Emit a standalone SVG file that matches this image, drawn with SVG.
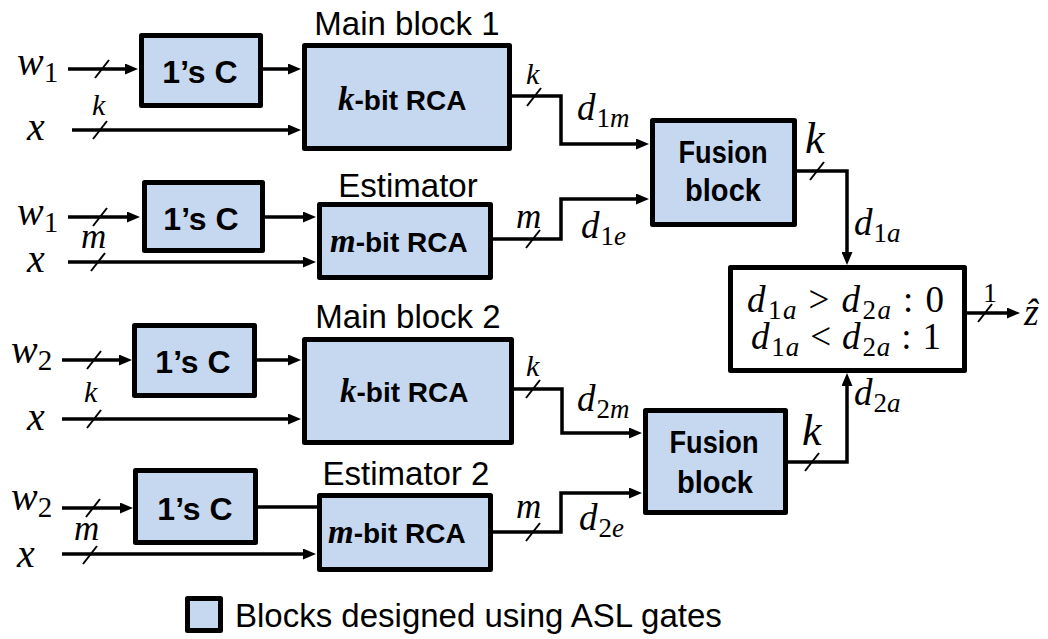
<svg xmlns="http://www.w3.org/2000/svg" width="1048" height="639" viewBox="0 0 1048 639">
<style>
.blk{fill:#c5d8f0;stroke:#000;stroke-width:5;stroke-linejoin:round}
.wbox{fill:#fff;stroke:#000;stroke-width:5;stroke-linejoin:round}
.w{fill:none;stroke:#000;stroke-width:3.5}
.sl{fill:none;stroke:#000;stroke-width:2}
.ttl{font-family:"Liberation Sans",Arial,sans-serif;font-size:33px;fill:#000}
.bold{font-family:"Liberation Sans",Arial,sans-serif;font-weight:bold;fill:#000}
.mi{font-family:"Liberation Serif","DejaVu Serif",serif;font-style:italic;fill:#000}
.up{font-family:"Liberation Serif","DejaVu Serif",serif;font-style:normal}
.kb{font-family:"Liberation Serif","DejaVu Serif",serif;font-style:italic;font-weight:bold}
</style>
<defs>
<marker id="ah" markerUnits="userSpaceOnUse" markerWidth="13" markerHeight="11" refX="8" refY="5.5" orient="auto">
<path d="M0,0 L13,5.5 L0,11 z" fill="#000"/>
</marker>
</defs>
<rect width="1048" height="639" fill="#fff"/>

<g id="connectors">
<!-- row 1 -->
<line class="w" x1="68" y1="69" x2="133" y2="69" marker-end="url(#ah)"/>
<line class="w" x1="263" y1="69" x2="296" y2="69" marker-end="url(#ah)"/>
<line class="w" x1="72" y1="130" x2="296" y2="130" marker-end="url(#ah)"/>
<!-- row 2 -->
<line class="w" x1="68" y1="217" x2="135" y2="217" marker-end="url(#ah)"/>
<line class="w" x1="265" y1="217" x2="311" y2="217" marker-end="url(#ah)"/>
<line class="w" x1="68" y1="262" x2="311" y2="262" marker-end="url(#ah)"/>
<!-- row 3 -->
<line class="w" x1="62" y1="360" x2="127" y2="360" marker-end="url(#ah)"/>
<line class="w" x1="257" y1="360" x2="296" y2="360" marker-end="url(#ah)"/>
<line class="w" x1="62" y1="419" x2="296" y2="419" marker-end="url(#ah)"/>
<!-- row 4 -->
<line class="w" x1="62" y1="508" x2="128" y2="508" marker-end="url(#ah)"/>
<line class="w" x1="258" y1="507" x2="318" y2="507"/>
<line class="w" x1="62" y1="554" x2="311" y2="554" marker-end="url(#ah)"/>
<!-- to fusion blocks -->
<polyline class="w" points="512,96 561,96 561,144 644,144" marker-end="url(#ah)"/>
<polyline class="w" points="492,239 561,239 561,199 644,199" marker-end="url(#ah)"/>
<polyline class="w" points="513,389 562,389 562,433 637,433" marker-end="url(#ah)"/>
<polyline class="w" points="492,532 561,532 561,493 637,493" marker-end="url(#ah)"/>
<!-- fusion outputs -->
<polyline class="w" points="796,171 847,171 847,260" marker-end="url(#ah)"/>
<polyline class="w" points="787,462 847,462 847,378" marker-end="url(#ah)"/>
<line class="w" x1="966" y1="313" x2="1015" y2="313" marker-end="url(#ah)"/>
<!-- bus slashes -->
<line class="sl" x1="95" y1="78" x2="109" y2="60"/>
<line class="sl" x1="93" y1="139" x2="107" y2="121"/>
<line class="sl" x1="93" y1="226" x2="107" y2="208"/>
<line class="sl" x1="91" y1="271" x2="105" y2="253"/>
<line class="sl" x1="87" y1="369" x2="101" y2="351"/>
<line class="sl" x1="87" y1="428" x2="101" y2="410"/>
<line class="sl" x1="86" y1="517" x2="100" y2="499"/>
<line class="sl" x1="83" y1="564" x2="97" y2="546"/>
<line class="sl" x1="527" y1="106" x2="541" y2="88"/>
<line class="sl" x1="526" y1="248" x2="540" y2="230"/>
<line class="sl" x1="810" y1="180" x2="824" y2="162"/>
<line class="sl" x1="526" y1="398" x2="540" y2="380"/>
<line class="sl" x1="526" y1="541" x2="540" y2="523"/>
<line class="sl" x1="805" y1="471" x2="819" y2="453"/>
<line class="sl" x1="978" y1="322" x2="992" y2="304"/>
<!-- bus labels -->
<text class="mi" x="92" y="115" font-size="30">k</text>
<text class="mi" x="81" y="248" font-size="35">m</text>
<text class="mi" x="84" y="402" font-size="30">k</text>
<text class="mi" x="74" y="540" font-size="35">m</text>
<text class="mi" x="526" y="84" font-size="30">k</text>
<text class="mi" x="516" y="228" font-size="35">m</text>
<text class="mi" x="526" y="376" font-size="30">k</text>
<text class="mi" x="516" y="518" font-size="35">m</text>
<text class="mi" x="805" y="153" font-size="44">k</text>
<text class="mi" x="802" y="445" font-size="44">k</text>
<text class="up" x="983" y="302" font-size="28">1</text>
<!-- signal labels -->
<text class="mi" x="577" y="120" font-size="37">d<tspan class="up" font-size="27" dy="7" dx="1">1</tspan><tspan font-size="27">m</tspan></text>
<text class="mi" x="581" y="238" font-size="37">d<tspan class="up" font-size="27" dy="7" dx="1">1</tspan><tspan font-size="27">e</tspan></text>
<text class="mi" x="577" y="411" font-size="37">d<tspan class="up" font-size="27" dy="7" dx="1">2</tspan><tspan font-size="27">m</tspan></text>
<text class="mi" x="579" y="530" font-size="37">d<tspan class="up" font-size="27" dy="7" dx="1">2</tspan><tspan font-size="27">e</tspan></text>
<text class="mi" x="854" y="235" font-size="37">d<tspan class="up" font-size="27" dy="7" dx="1">1</tspan><tspan font-size="27">a</tspan></text>
<text class="mi" x="854" y="405" font-size="37">d<tspan class="up" font-size="27" dy="7" dx="1">2</tspan><tspan font-size="27">a</tspan></text>
<text class="mi" x="1024" y="325" font-size="38">ẑ</text>
<!-- inputs -->
<text class="mi" x="17" y="75" font-size="40">w<tspan class="up" font-size="29" dy="7">1</tspan></text>
<text class="mi" x="27" y="140" font-size="40">x</text>
<text class="mi" x="17" y="225" font-size="40">w<tspan class="up" font-size="29" dy="7">1</tspan></text>
<text class="mi" x="27" y="272" font-size="40">x</text>
<text class="mi" x="11" y="363" font-size="40">w<tspan class="up" font-size="29" dy="7">2</tspan></text>
<text class="mi" x="27" y="430" font-size="40">x</text>
<text class="mi" x="11" y="510" font-size="40">w<tspan class="up" font-size="29" dy="7">2</tspan></text>
<text class="mi" x="17" y="567" font-size="40">x</text>
</g>

<g id="onesC1">
<rect class="blk" x="141.5" y="35.5" width="119" height="70"/>
<text class="bold" x="200" y="83" font-size="32" text-anchor="middle">1’s C</text>
</g>
<g id="onesC2">
<rect class="blk" x="144.5" y="182.5" width="118" height="68"/>
<text class="bold" x="201" y="230" font-size="32" text-anchor="middle">1’s C</text>
</g>
<g id="onesC3">
<rect class="blk" x="134.5" y="325.5" width="120" height="70"/>
<text class="bold" x="193" y="373" font-size="32" text-anchor="middle">1’s C</text>
</g>
<g id="onesC4">
<rect class="blk" x="135.5" y="470.5" width="120" height="72"/>
<text class="bold" x="195" y="520" font-size="32" text-anchor="middle">1’s C</text>
</g>

<g id="mainblock1">
<text class="ttl" x="407" y="35" text-anchor="middle">Main block 1</text>
<rect class="blk" x="304.5" y="45.5" width="205" height="103"/>
<text x="338" y="110"><tspan class="kb" font-size="33">k</tspan><tspan class="bold" font-size="28">-bit RCA</tspan></text>
</g>
<g id="estimator1">
<text class="ttl" x="408" y="197" text-anchor="middle">Estimator</text>
<rect class="blk" x="319.5" y="204.5" width="171" height="73"/>
<text x="330" y="252"><tspan class="kb" font-size="33">m</tspan><tspan class="bold" font-size="28">-bit RCA</tspan></text>
</g>
<g id="mainblock2">
<text class="ttl" x="408" y="328" text-anchor="middle">Main block 2</text>
<rect class="blk" x="304.5" y="339.5" width="207" height="103"/>
<text x="340" y="402"><tspan class="kb" font-size="33">k</tspan><tspan class="bold" font-size="28">-bit RCA</tspan></text>
</g>
<g id="estimator2">
<text class="ttl" x="406" y="485" text-anchor="middle">Estimator 2</text>
<rect class="blk" x="319.5" y="495.5" width="171" height="74"/>
<text x="328" y="543"><tspan class="kb" font-size="33">m</tspan><tspan class="bold" font-size="28">-bit RCA</tspan></text>
</g>

<g id="fusion1">
<rect class="blk" x="652.5" y="120.5" width="142" height="104"/>
<text class="bold" x="723" y="163" font-size="31" text-anchor="middle" textLength="89" lengthAdjust="spacingAndGlyphs">Fusion</text>
<text class="bold" x="723" y="201" font-size="31" text-anchor="middle" textLength="76" lengthAdjust="spacingAndGlyphs">block</text>
</g>
<g id="fusion2">
<rect class="blk" x="645.5" y="410.5" width="140" height="102"/>
<text class="bold" x="714" y="453" font-size="31" text-anchor="middle" textLength="89" lengthAdjust="spacingAndGlyphs">Fusion</text>
<text class="bold" x="715" y="493" font-size="31" text-anchor="middle" textLength="76" lengthAdjust="spacingAndGlyphs">block</text>
</g>

<g id="comparator">
<rect class="wbox" x="730.5" y="267.5" width="234" height="103"/>
<text class="mi" x="747" y="312" font-size="37" textLength="197">d<tspan class="up" font-size="27" dy="7" dx="1">1</tspan><tspan font-size="27">a</tspan><tspan class="up" dy="-7"> &gt; </tspan>d<tspan class="up" font-size="27" dy="7" dx="1">2</tspan><tspan font-size="27">a</tspan><tspan class="up" dy="-7"> :  0</tspan></text>
<text class="mi" x="751" y="349" font-size="37" textLength="190">d<tspan class="up" font-size="27" dy="7" dx="1">1</tspan><tspan font-size="27">a</tspan><tspan class="up" dy="-7"> &lt; </tspan>d<tspan class="up" font-size="27" dy="7" dx="1">2</tspan><tspan font-size="27">a</tspan><tspan class="up" dy="-7"> : 1</tspan></text>
</g>

<g id="legend">
<rect class="blk" x="187.5" y="598.5" width="33" height="32"/>
<text class="ttl" x="235" y="627" font-size="32.5">Blocks designed using ASL gates</text>
</g>
</svg>
